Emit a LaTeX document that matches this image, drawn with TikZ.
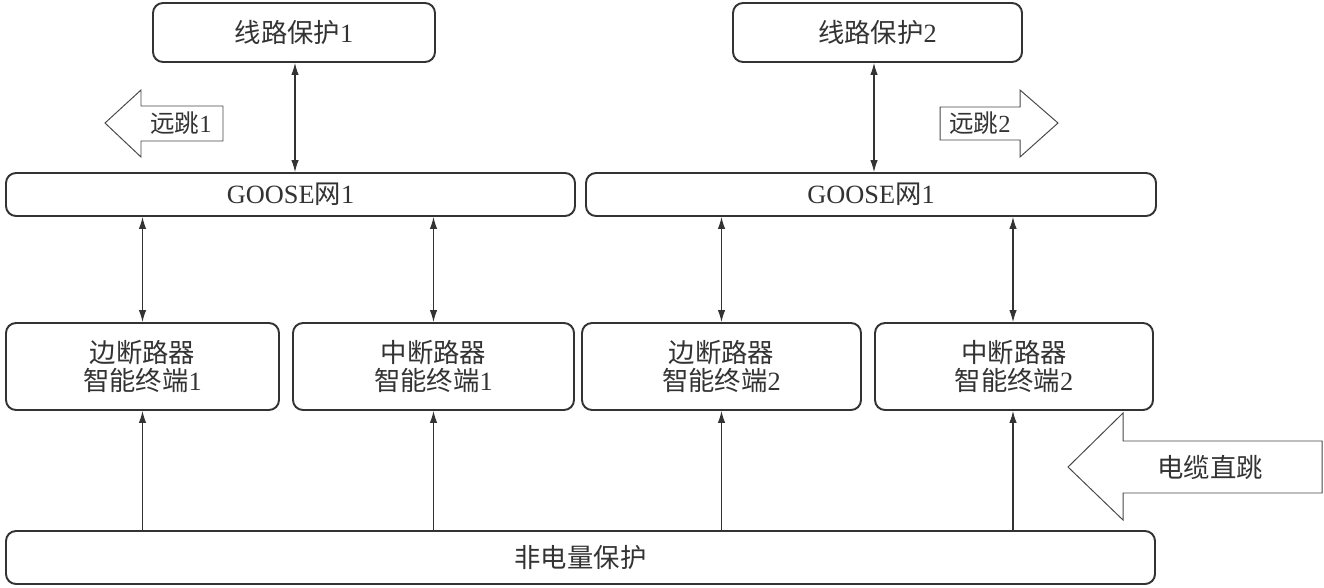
\documentclass[tikz,border=0pt]{standalone}
\usepackage{fontspec}
\setmainfont{Liberation Serif}
\newfontfamily\cjk{Noto Sans CJK SC}
\usetikzlibrary{arrows.meta}
\definecolor{ink}{HTML}{333333}
\begin{document}
\begin{tikzpicture}[
  box/.style={draw=ink, line width=1.1pt, rounded corners=0.2cm, fill=white,
    text=ink, align=center, inner sep=0pt,
    font={\fontsize{15}{16}\selectfont}},
  lnk/.style={draw=ink, line width=0.6pt},
  tip/.style={-{Latex[length=2.4mm,width=1.5mm]}},
  dtip/.style={{Latex[length=2.4mm,width=1.5mm]}-{Latex[length=2.4mm,width=1.5mm]}},
  blk/.style={draw=ink!90, line width=0.55pt, fill=white},
  lbl/.style={text=ink, inner sep=0pt}
]
\useasboundingbox (0,0) rectangle (26.48,-11.74);

% boxes
\node[box, minimum width=5.64cm, minimum height=1.18cm] (lp1) at (5.88,-0.65) {{\cjk 线路保护}1};
\node[box, minimum width=5.78cm, minimum height=1.18cm] (lp2) at (17.55,-0.65) {{\cjk 线路保护}2};
\node[box, minimum width=11.38cm, minimum height=0.86cm] (g1) at (5.81,-3.89) {GOOSE{\cjk 网}1};
\node[box, minimum width=11.40cm, minimum height=0.86cm] (g2) at (17.42,-3.89) {GOOSE{\cjk 网}1};
\node[box, minimum width=5.46cm, minimum height=1.74cm] (b1) at (2.85,-7.33) {{\cjk 边断路器}\\{\cjk 智能终端}1};
\node[box, minimum width=5.62cm, minimum height=1.74cm] (b2) at (8.67,-7.33) {{\cjk 中断路器}\\{\cjk 智能终端}1};
\node[box, minimum width=5.58cm, minimum height=1.74cm] (b3) at (14.43,-7.33) {{\cjk 边断路器}\\{\cjk 智能终端}2};
\node[box, minimum width=5.56cm, minimum height=1.74cm] (b4) at (20.28,-7.33) {{\cjk 中断路器}\\{\cjk 智能终端}2};
\node[box, minimum width=22.98cm, minimum height=1.06cm] (nq) at (11.61,-11.15) {{\cjk 非电量保护}};

% connectors
\draw[lnk, dtip] (lp1.south -| 5.9,0) -- (g1.north -| 5.9,0);
\draw[lnk, dtip] (lp2.south -| 17.48,0) -- (g2.north -| 17.48,0);
\draw[lnk, dtip] (g1.south -| b1.north) -- (b1.north);
\draw[lnk, dtip] (g1.south -| b2.north) -- (b2.north);
\draw[lnk, dtip] (g2.south -| b3.north) -- (b3.north);
\draw[lnk, dtip] (g2.south -| 20.26,0) -- (b4.north -| 20.26,0);
\draw[lnk, tip] (nq.north -| b1.south) -- (b1.south);
\draw[lnk, tip] (nq.north -| b2.south) -- (b2.south);
\draw[lnk, tip] (nq.north -| b3.south) -- (b3.south);
\draw[lnk, tip] (nq.north -| 20.26,0) -- (b4.south -| 20.26,0);

% block arrows
\draw[blk] (2.1,-2.46) -- (2.82,-1.8) -- (2.82,-2.12) -- (4.46,-2.12) -- (4.46,-2.82) -- (2.82,-2.82) -- (2.82,-3.14) -- cycle;
\node[lbl, font={\fontsize{14}{15}\selectfont}] (yt1) at (3.62,-2.47) {{\cjk 远跳}1};

\draw[blk] (21.16,-2.46) -- (20.4,-1.8) -- (20.4,-2.14) -- (18.8,-2.14) -- (18.8,-2.8) -- (20.4,-2.8) -- (20.4,-3.14) -- cycle;
\node[lbl, font={\fontsize{14}{15}\selectfont}] (yt2) at (19.6,-2.47) {{\cjk 远跳}2};

\draw[blk] (21.36,-9.34) -- (22.46,-8.26) -- (22.46,-8.82) -- (26.44,-8.82) -- (26.44,-9.86) -- (22.46,-9.86) -- (22.46,-10.4) -- cycle;
\node[lbl, font={\fontsize{15}{16}\selectfont}] (dl) at (24.2,-9.34) {{\cjk 电缆直跳}};
\end{tikzpicture}
\end{document}
